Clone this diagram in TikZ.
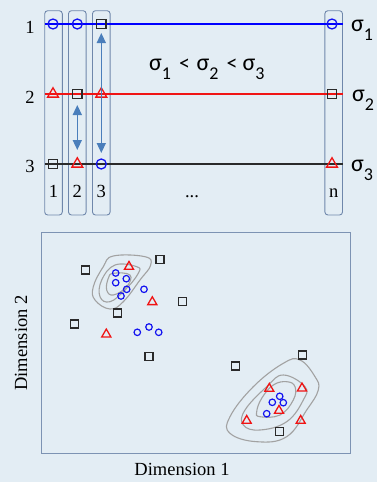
\documentclass[tikz,border=0pt]{standalone}
\usepackage{fontspec}
\setmainfont{Liberation Serif}
\newfontfamily\sgfont{Carlito}
\usetikzlibrary{shapes.geometric,arrows.meta}
\definecolor{bg}{HTML}{E3EDF4}
\definecolor{colbox}{HTML}{6F87AB}
\definecolor{arr}{HTML}{4A7EBB}
\definecolor{mblue}{HTML}{1414F0}
\definecolor{mred}{HTML}{F01414}
\definecolor{mdark}{HTML}{2A2A2A}
\definecolor{cont}{HTML}{A2A2A2}
\newcommand{\sgm}[1]{{\sgfont\fontsize{24}{28}\selectfont σ\raisebox{-9pt}{\fontsize{18}{20}\selectfont #1}}}
\newcommand{\lsym}{{\sgfont\fontsize{22}{26}\selectfont <}}
\begin{document}
\begin{tikzpicture}[x=1pt,y=-1pt,
  circ/.style={circle,draw=mblue,line width=1.3pt,minimum size=10pt,inner sep=0pt},
  sqr/.style={rectangle,draw=mdark,line width=1.2pt,minimum size=9.5pt,inner sep=0pt},
  tri/.style={regular polygon,regular polygon sides=3,draw=mred,line width=1.3pt,minimum size=12.5pt,inner sep=0pt},
  scirc/.style={circle,draw=mblue,line width=1.2pt,minimum size=6.5pt,inner sep=0pt},
  ssqr/.style={rectangle,draw=mdark,line width=1.3pt,minimum size=8pt,inner sep=0pt},
  stri/.style={regular polygon,regular polygon sides=3,draw=mred,line width=1.3pt,minimum size=10.5pt,inner sep=0pt},
  colb/.style={draw=colbox,line width=0.9pt,rounded corners=3pt,minimum width=17.6pt,minimum height=204.3pt,inner sep=0pt},
  lab/.style={font=\fontsize{18.5}{22}\selectfont,inner sep=0pt,anchor=base},
  sg/.style={anchor=base west,inner sep=0pt},
  contour/.style={draw=cont,line width=1.1pt},
  dbl/.style={draw=arr,line width=1.5pt,{Triangle[width=9pt,length=10pt]}-{Triangle[width=9pt,length=10pt]}}
]
\fill[bg] (0,0) rectangle (377,482);
\useasboundingbox (0,0) rectangle (377,482);
% column boxes
\node[colb] (c1) at (53.5,112.85) {};
\node[colb] (c2) at (77.3,112.85) {};
\node[colb] (c3) at (101.3,112.85) {};
\node[colb] (cn) at (333.7,112.85) {};
% row lines
\coordinate (l1a) at (44.5,24); \coordinate (l1b) at (342.5,24);
\coordinate (l2a) at (44.5,94); \coordinate (l2b) at (342.5,94);
\coordinate (l3a) at (44.5,164); \coordinate (l3b) at (342.5,164);
\draw[blue,line width=1.2pt] (l1a) -- (l1b);
\draw[mred,line width=1.2pt] (l2a) -- (l2b);
\draw[mdark,line width=1.2pt] (l3a) -- (l3b);
% markers
\node[circ] (m11) at (53,24) {};
\node[circ] (m12) at (77.3,24) {};
\node[sqr]  (m13) at (101.3,24) {};
\node[circ] (m1n) at (332,24) {};
\node[tri]  (m21) at (53,94) {};
\node[sqr]  (m22) at (77.3,94) {};
\node[tri]  (m23) at (101.3,94) {};
\node[sqr]  (m2n) at (332,94) {};
\node[sqr]  (m31) at (53,164) {};
\node[tri]  (m32) at (77.3,164) {};
\node[circ] (m33) at (101.3,164) {};
\node[tri]  (m3n) at (332,164) {};
% arrows
\coordinate (a2t) at (77.3,105); \coordinate (a2b) at (77.3,150);
\coordinate (a3t) at (101.3,33); \coordinate (a3b) at (101.3,153);
\draw[dbl] (a2t) -- (a2b);
\draw[dbl] (a3t) -- (a3b);
% row labels
\node[lab] (r1) at (30,33) {1};
\node[lab] (r2) at (30,103) {2};
\node[lab] (r3) at (30,172) {3};
% column labels
\node[lab] (k1) at (53.5,197) {1};
\node[lab] (k2) at (77.3,197) {2};
\node[lab] (k3) at (101.3,197) {3};
\node[lab] (k4) at (192,197) {...};
\node[lab] (kn) at (333.7,197) {n};
% sigma labels
\node[sg] (s1) at (351,31.5) {\sgm{1}};
\node[sg] (s2) at (352,101.5) {\sgm{2}};
\node[sg] (s3) at (351,171.5) {\sgm{3}};
% inequality
\node[sg] (e1) at (149,70) {\sgm{1}};
\node[sg] (e2) at (179,70) {\lsym};
\node[sg] (e3) at (196.5,70) {\sgm{2}};
\node[sg] (e4) at (226.5,70) {\lsym};
\node[sg] (e5) at (242.5,70) {\sgm{3}};
% lower box
\node[draw=colbox!90,line width=1pt,minimum width=309.7pt,minimum height=221.4pt,inner sep=0pt] (plotbox) at (195.85,343) {};
\node[font=\fontsize{18.5}{22}\selectfont,inner sep=0pt] (xl) at (182,469) {Dimension 1};
\node[font=\fontsize{18.5}{22}\selectfont,inner sep=0pt,rotate=90] (yl) at (21,343) {Dimension 2};
% contours
\draw[contour] plot[smooth cycle,tension=0.7] coordinates {(113.3,256) (145,256.7) (150.7,265) (140,280) (123.3,301.7) (110,309) (95,300) (93.3,286.7) (103.3,266.7)};
\draw[contour] plot[smooth cycle,tension=0.7] coordinates {(115,265) (136.7,266.7) (138.3,273.3) (125,290) (110,301.7) (100,296.7) (101.7,280)};
\draw[contour] plot[smooth cycle,tension=0.7] coordinates {(113.3,273.3) (130,275) (126.7,286.7) (113.3,295) (106.7,290) (108.3,278.3)};
\draw[contour] plot[smooth cycle,tension=0.7] coordinates {(300,360) (315,376.7) (318.3,390) (306.7,410) (286.7,436.7) (256.7,441.7) (230,433.3) (230,416.7) (253.3,386.7) (283.3,363.3)};
\draw[contour] plot[smooth cycle,tension=0.7] coordinates {(283.3,375) (305,386.7) (303.3,400) (286.7,421.7) (260,430) (243.3,425) (245,410) (266.7,386.7)};
\draw[contour] plot[smooth cycle,tension=0.7] coordinates {(286.7,381.7) (295,386.7) (293.3,400) (280,415) (260,416.7) (256.7,411.7) (261.7,398.3) (273.3,385)};
% squares
\node[ssqr] (q1) at (85.7,270) {};
\node[ssqr] (q2) at (160,259.3) {};
\node[ssqr] (q3) at (182.3,301.3) {};
\node[ssqr] (q4) at (117.7,313) {};
\node[ssqr] (q5) at (74.3,324) {};
\node[ssqr] (q6) at (149,356.3) {};
\node[ssqr] (q7) at (235.7,366) {};
\node[ssqr] (q8) at (302.7,355) {};
\node[ssqr] (q9) at (279.3,431.7) {};
% triangles
\node[stri] (t1) at (129,266.7) {};
\node[stri] (t2) at (152.3,302) {};
\node[stri] (t3) at (106.3,334.3) {};
\node[stri] (t4) at (269.3,388.7) {};
\node[stri] (t5) at (302,388.3) {};
\node[stri] (t6) at (279,410.7) {};
\node[stri] (t7) at (246.7,420.7) {};
\node[stri] (t8) at (300.7,420.7) {};
% circles
\node[scirc] (o1) at (115.7,273) {};
\node[scirc] (o2) at (126.3,278.7) {};
\node[scirc] (o3) at (115.7,282.7) {};
\node[scirc] (o4) at (126.7,289.3) {};
\node[scirc] (o5) at (121,296) {};
\node[scirc] (o6) at (144,289.3) {};
\node[scirc] (o7) at (149,327) {};
\node[scirc] (o8) at (137.3,332.3) {};
\node[scirc] (o9) at (158.7,332.3) {};
\node[scirc] (o10) at (279.7,396.3) {};
\node[scirc] (o11) at (272.3,402.3) {};
\node[scirc] (o12) at (283.3,402.7) {};
\node[scirc] (o13) at (266.7,413.7) {};
\end{tikzpicture}
\end{document}
